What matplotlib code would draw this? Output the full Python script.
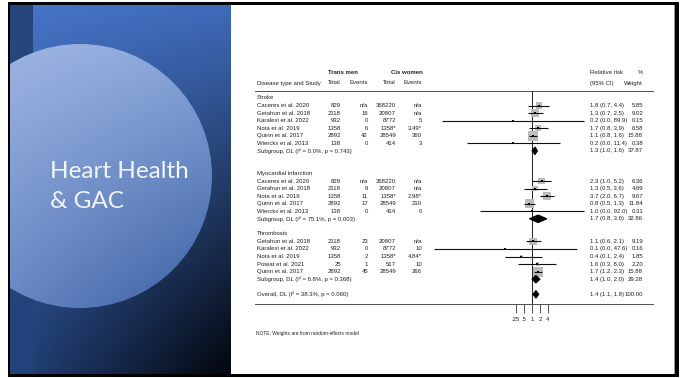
import numpy as np
import matplotlib
matplotlib.use("Agg")
import matplotlib.pyplot as plt
import matplotlib.colors as mcolors
from matplotlib.patches import Circle, Rectangle, Polygon
from matplotlib.transforms import blended_transform_factory

# ---------------- data ----------------
group_names = ["Stroke", "Myocardial infarction", "Thrombosis"]

stroke_study = ["Caceres et al. 2020", "Getahun et al. 2018", "Karalexi et al. 2022",
                "Nota et al. 2019", "Quinn et al. 2017", "Wierckx et al. 2013"]
stroke_tm_total = ["829", "2118", "932", "1358", "2892", "138"]
stroke_tm_events = ["n/a", "16", "0", "6", "42", "0"]
stroke_cw_total = ["368220", "20807", "8772", "1358*", "28549", "414"]
stroke_cw_events = ["n/a", "n/a", "5", "3.49*", "360", "3"]
stroke_rr = [1.8, 1.3, 0.2, 1.7, 1.1, 0.2]
stroke_lo = [0.7, 0.7, 0.0004, 0.8, 0.8, 0.0035]
stroke_hi = [4.4, 2.5, 89.9, 3.9, 1.6, 11.4]
stroke_wt = [5.85, 9.02, 0.15, 6.58, 15.88, 0.38]

mi_study = ["Caceres et al. 2020", "Getahun et al. 2018", "Nota et al. 2019",
            "Quinn et al. 2017", "Wierckx et al. 2013"]
mi_tm_total = ["829", "2118", "1358", "2892", "138"]
mi_tm_events = ["n/a", "9", "11", "17", "0"]
mi_cw_total = ["368220", "20807", "1358*", "28549", "414"]
mi_cw_events = ["n/a", "n/a", "2.98*", "210", "0"]
mi_rr = [2.3, 1.3, 3.7, 0.8, 1.0]
mi_lo = [1.0, 0.5, 2.0, 0.5, 0.011]
mi_hi = [5.2, 3.6, 6.7, 1.3, 92.0]
mi_wt = [6.36, 4.69, 9.67, 11.84, 0.31]

thr_study = ["Getahun et al. 2018", "Karalexi et al. 2022", "Nota et al. 2019",
             "Poteat et al. 2021", "Quinn et al. 2017"]
thr_tm_total = ["2118", "932", "1358", "25", "2892"]
thr_tm_events = ["23", "0", "2", "1", "45"]
thr_cw_total = ["20807", "8772", "1358*", "517", "28549"]
thr_cw_events = ["n/a", "10", "4.84*", "10", "266"]
thr_rr = [1.1, 0.1, 0.4, 1.6, 1.7]
thr_lo = [0.6, 0.0002, 0.1, 0.3, 1.2]
thr_hi = [2.1, 47.6, 2.4, 8.0, 2.3]
thr_wt = [9.19, 0.16, 1.85, 2.20, 15.88]

sub_rr = [1.3, 1.7, 1.4]
sub_lo = [1.0, 0.8, 1.0]
sub_hi = [1.6, 3.6, 2.0]
sub_wt = [37.87, 32.86, 29.28]
sub_i2 = [0.0, 75.1, 6.8]
sub_p = [0.743, 0.003, 0.368]

overall_rr, overall_lo, overall_hi, overall_wt = 1.4, 1.1, 1.8, 100.00
overall_i2, overall_p = 38.3, 0.060

tick_values = [0.25, 0.5, 1, 2, 4]
tick_labels = [".25", ".5", "1", "2", "4"]

# ---------------- figure / slide ----------------
W, H = 683, 378
fig = plt.figure(figsize=(W / 100, H / 100), dpi=100)
fig.patch.set_facecolor("white")
bg = fig.add_axes([0, 0, 1, 1])
bg.axis("off")


def bilinear(corners, nx, ny):
    tl, tr, bl, br = [np.array(mcolors.to_rgb(c)) for c in corners]
    u = np.linspace(0, 1, nx)[None, :, None]
    v = np.linspace(0, 1, ny)[:, None, None]
    top = tl * (1 - u) + tr * u
    bot = bl * (1 - u) + br * u
    return top * (1 - v) + bot * v


# frame
bg.add_patch(Rectangle((8, 2), 671, 375, facecolor="black", edgecolor="none", zorder=0))
bg.add_patch(Rectangle((231, 5), 443, 369, facecolor="white", edgecolor="none", zorder=1))
bg.add_patch(Rectangle((674, 5), 1.2, 369, facecolor="#9a9a9a", edgecolor="none", zorder=1))

# blue side panel
px0, px1, py0, py1 = 10, 231, 5, 374
panel = bilinear(["#4674c6", "#3f6bba", "#23437c", "#03060c"], 120, 200)
bg.imshow(panel, extent=[px0, px1, py1, py0], origin="upper", zorder=1,
          interpolation="bilinear")
strip = bilinear(["#27477c", "#27477c", "#23427c", "#23427c"], 4, 50)
bg.imshow(strip, extent=[px0, 33, py1, py0], origin="upper", zorder=1.1,
          interpolation="bilinear")

# circle
cx, cy, cr = 80, 176, 132
circ_img = bilinear(["#a2b9e4", "#8ba7db", "#7592cd", "#3a5fa2"], 150, 150)
im = bg.imshow(circ_img, extent=[cx - cr, cx + cr, cy + cr, cy - cr], origin="upper",
               zorder=1.2, interpolation="bilinear")
clip_c = Circle((cx, cy), cr, transform=bg.transData)
im.set_clip_path(clip_c)
# hide the part of the circle past the panel's left edge
bg.add_patch(Rectangle((0, 0), 8, H, facecolor="white", edgecolor="none", zorder=1.3))
bg.add_patch(Rectangle((8, 2), 2, 375, facecolor="black", edgecolor="none", zorder=1.3))

bg.text(50, 178, "Heart Health", color="#f2f5fb", fontsize=17.5, family="Lato",
        va="baseline", ha="left", zorder=3)
bg.text(50, 208, "& GAC", color="#f2f5fb", fontsize=17.5, family="Lato",
        va="baseline", ha="left", zorder=3)

bg.set_aspect("auto")
bg.set_xlim(0, W)
bg.set_ylim(H, 0)

# ---------------- forest plot ----------------
y0, dy = 98, 7.55           # pixel row of the first heading and row pitch
line_top, line_bot = 91, 304
fx0, fx1 = 428, 586         # forest panel in pixels
x_one = 532                 # pixel of RR = 1
ppd = 8.0                   # pixels per doubling


def row_of(py):
    return (py - y0) / dy


fax = fig.add_axes([fx0 / W, 1 - line_bot / H, (fx1 - fx0) / W, (line_bot - line_top) / H])
fax.set_xscale("log", base=2)
fax.set_xlim(2 ** ((fx0 - x_one) / ppd), 2 ** ((fx1 - x_one) / ppd))
fax.set_ylim(row_of(line_bot), row_of(line_top))
fax.patch.set_visible(False)
for s in fax.spines.values():
    s.set_visible(False)
fax.set_yticks([])
fax.set_xticks(tick_values)
fax.set_xticklabels(tick_labels)
fax.xaxis.set_minor_locator(matplotlib.ticker.NullLocator())
fax.tick_params(axis="x", direction="out", length=6.5, width=0.6, color="#333333",
                labelsize=4.3, pad=3.2, labelcolor="#222222")
for lab in fax.get_xticklabels():
    lab.set_family("Liberation Sans")

fax.axvline(1, color="#222222", lw=0.7, zorder=1)

tr = blended_transform_factory(bg.transData, fax.transData)
TXT = dict(fontsize=4.3, family="Liberation Sans", color="#222222", va="center")

col_study, col_tmt, col_tme, col_cwt, col_cwe = 257, 341, 368, 396, 422
col_rr, col_wt = 590, 643

# header
bg.text((col_tmt + col_tme) / 2 - 12, 73, "Trans men", fontweight="bold",
        ha="center", **TXT)
bg.text((col_cwt + col_cwe) / 2 - 2, 73, "Cis women", fontweight="bold",
        ha="center", **TXT)
bg.text(col_study, 83, "Disease type and Study", ha="left", **TXT)
bg.text(col_tmt, 83, "Total", ha="right", **TXT)
bg.text(col_tme, 83, "Events", ha="right", **TXT)
bg.text(col_cwt, 83, "Total", ha="right", **TXT)
bg.text(col_cwe, 83, "Events", ha="right", **TXT)
bg.text(col_rr, 73, "Relative risk", ha="left", **TXT)
bg.text(col_rr, 83, "(95% CI)", ha="left", **TXT)
bg.text(col_wt, 73, "%", ha="right", **TXT)
bg.text(col_wt, 83, "Weight", ha="right", **TXT)
bg.plot([255, 653], [line_top, line_top], color="#333333", lw=0.6, zorder=2)
bg.plot([255, 653], [line_bot, line_bot], color="#333333", lw=0.6, zorder=2)


def ci_text(r, lo, hi):
    return f"{r:.1f} ({lo:.1f}, {hi:.1f})"


groups = [
    (stroke_study, stroke_tm_total, stroke_tm_events, stroke_cw_total, stroke_cw_events,
     stroke_rr, stroke_lo, stroke_hi, stroke_wt),
    (mi_study, mi_tm_total, mi_tm_events, mi_cw_total, mi_cw_events,
     mi_rr, mi_lo, mi_hi, mi_wt),
    (thr_study, thr_tm_total, thr_tm_events, thr_cw_total, thr_cw_events,
     thr_rr, thr_lo, thr_hi, thr_wt),
]


def diamond(r, lo, hi, row, h=0.5):
    fax.add_patch(Polygon([(lo, row), (r, row - h), (hi, row), (r, row + h)],
                          closed=True, facecolor="black", edgecolor="black", lw=0.8,
                          zorder=4))


row = 0
for g, (name, data) in enumerate(zip(group_names, groups)):
    study, tmt, tme, cwt, cwe, rr, lo, hi, wt = data
    bg.text(col_study, row, name, ha="left", transform=tr, **TXT)
    row += 1
    for i in range(len(study)):
        bg.text(col_study, row, study[i], ha="left", transform=tr, **TXT)
        bg.text(col_tmt, row, tmt[i], ha="right", transform=tr, **TXT)
        bg.text(col_tme, row, tme[i], ha="right", transform=tr, **TXT)
        bg.text(col_cwt, row, cwt[i], ha="right", transform=tr, **TXT)
        bg.text(col_cwe, row, cwe[i], ha="right", transform=tr, **TXT)
        bg.text(col_rr, row, ci_text(rr[i], lo[i], hi[i]), ha="left", transform=tr, **TXT)
        bg.text(col_wt, row, f"{wt[i]:.2f}", ha="right", transform=tr, **TXT)
        fax.scatter([rr[i]], [row], marker="s", s=3.4 * wt[i], color="#bcbcbc",
                    edgecolors="none", zorder=2)
        fax.plot([lo[i], hi[i]], [row, row], color="#111111", lw=0.8, zorder=3,
                 solid_capstyle="butt")
        fax.plot([rr[i]], [row], marker="s", ms=1.6, color="black", mew=0, zorder=3)
        row += 1
    bg.text(col_study, row,
            f"Subgroup, DL (I\u00b2 = {sub_i2[g]:.1f}%, p = {sub_p[g]:.3f})",
            ha="left", transform=tr, **TXT)
    bg.text(col_rr, row, ci_text(sub_rr[g], sub_lo[g], sub_hi[g]), ha="left",
            transform=tr, **TXT)
    bg.text(col_wt, row, f"{sub_wt[g]:.2f}", ha="right", transform=tr, **TXT)
    diamond(sub_rr[g], sub_lo[g], sub_hi[g], row)
    row += 3 if g == 0 else 2

row = 26
bg.text(col_study, row, f"Overall, DL (I\u00b2 = {overall_i2:.1f}%, p = {overall_p:.3f})",
        ha="left", transform=tr, **TXT)
bg.text(col_rr, row, ci_text(overall_rr, overall_lo, overall_hi), ha="left",
        transform=tr, **TXT)
bg.text(col_wt, row, f"{overall_wt:.2f}", ha="right", transform=tr, **TXT)
diamond(overall_rr, overall_lo, overall_hi, row)

bg.text(256, 333, "NOTE: Weights are from random-effects model", ha="left",
        fontsize=3.5, family="Liberation Sans", color="#222222", va="center")

fig.savefig("out.png", dpi=100, facecolor="white")
